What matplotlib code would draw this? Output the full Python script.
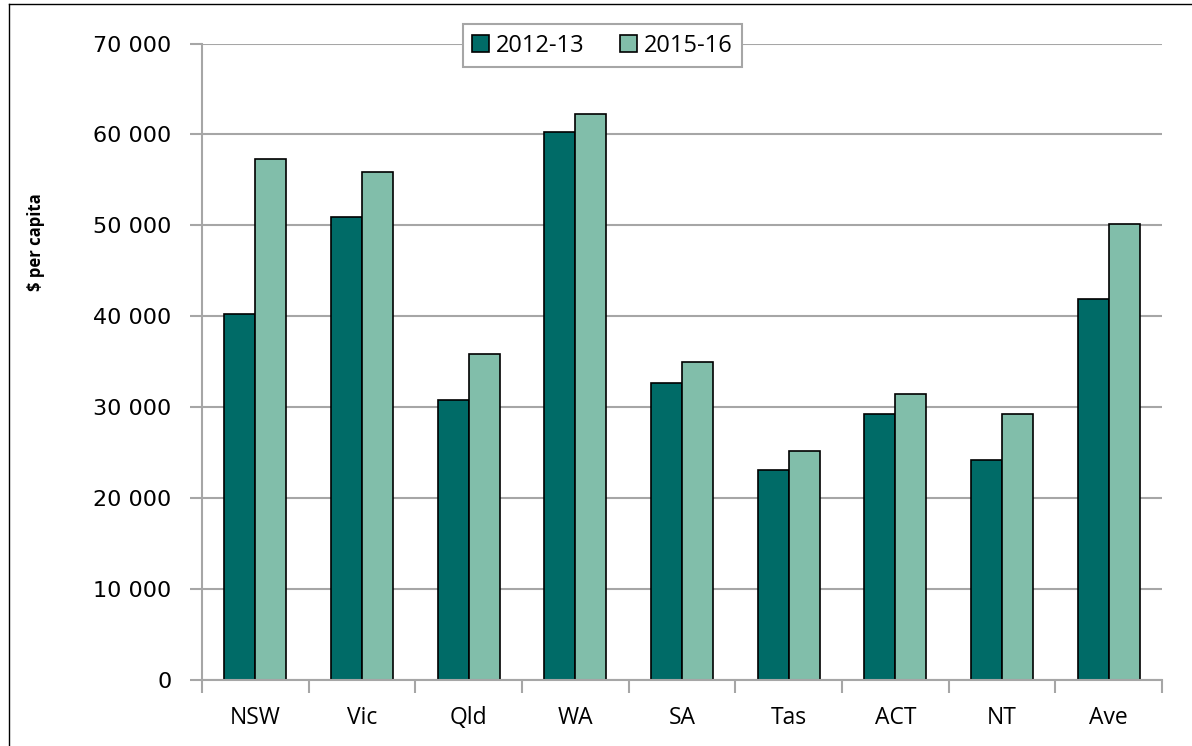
import matplotlib.pyplot as plt
import numpy as np
from matplotlib.lines import Line2D
from matplotlib.ticker import FuncFormatter

# per capita values
states = ["NSW", "Vic", "Qld", "WA", "SA", "Tas", "ACT", "NT", "Ave"]
y2012_13 = [40200, 50900, 30800, 60300, 32650, 23150, 29250, 24200, 41900]
y2015_16 = [57300, 55850, 35850, 62250, 34950, 25200, 31450, 29300, 50150]
series_labels = ["2012-13", "2015-16"]

DARK = "#006B67"
LIGHT = "#81BEAA"
GRID = "#A6A6A6"


def main():
    fig = plt.figure(figsize=(11.92, 7.46), dpi=100)
    W, H = 1192, 746
    ax = fig.add_axes([202 / W, 1 - 680 / H, 960 / W, (680 - 43.5) / H])

    x = np.arange(len(states))
    bw = 0.29
    ax.bar(x - bw / 2, y2012_13, bw, color=DARK, edgecolor="black", lw=1.2,
           label=series_labels[0], zorder=3)
    ax.bar(x + bw / 2, y2015_16, bw, color=LIGHT, edgecolor="black", lw=1.2,
           label=series_labels[1], zorder=3)

    ax.set_xlim(-0.5, len(states) - 0.5)
    ax.set_ylim(0, 70000)
    ax.set_yticks(np.arange(0, 70001, 10000))
    ax.yaxis.set_major_formatter(FuncFormatter(lambda v, p: f"{int(v):,}".replace(",", " ")))
    ax.grid(axis="y", color=GRID, lw=1.5, zorder=0)

    # category labels at centres, ticks at the boundaries
    ax.set_xticks(x)
    ax.set_xticklabels(states, fontfamily="Open Sans", fontsize=16.5)
    ax.tick_params(axis="x", which="major", length=0, pad=19)
    ax.set_xticks(np.arange(-0.5, len(states)), minor=True)
    ax.tick_params(axis="x", which="minor", length=9, width=1.5, color=GRID, direction="out")
    ax.tick_params(axis="y", length=9, width=1.5, color=GRID, pad=13, labelsize=16)
    for lab in ax.get_yticklabels():
        lab.set_fontfamily("DejaVu Sans")

    for side in ["top", "right"]:
        ax.spines[side].set_visible(False)
    for side in ["left", "bottom"]:
        ax.spines[side].set_color(GRID)
        ax.spines[side].set_linewidth(1.5)
    ax.spines["bottom"].set_zorder(4)

    ax.set_ylabel("$ per capita", fontfamily="Open Sans", fontweight="bold", fontsize=12)
    ax.yaxis.set_label_coords(-0.1635, 0.688)

    leg = ax.legend(loc="center", bbox_to_anchor=(602.5 / W, 1 - 45.5 / H),
                    bbox_transform=fig.transFigure, ncol=2, frameon=True,
                    fancybox=False, edgecolor=GRID, framealpha=1,
                    prop={"family": "Open Sans", "size": 17},
                    handlelength=0.7, handleheight=0.7, handletextpad=0.3,
                    columnspacing=1.5, borderpad=0.42)
    leg.get_frame().set_linewidth(1.5)
    leg.set_zorder(5)

    # outer chart border (right and bottom run off the picture)
    fig.add_artist(Line2D([9 / W, 9 / W], [0, 1 - 4 / H], color="black", lw=1))
    fig.add_artist(Line2D([9 / W, 1], [1 - 4 / H, 1 - 4 / H], color="black", lw=1))

    fig.savefig("out.png", dpi=100)


if __name__ == "__main__":
    main()
